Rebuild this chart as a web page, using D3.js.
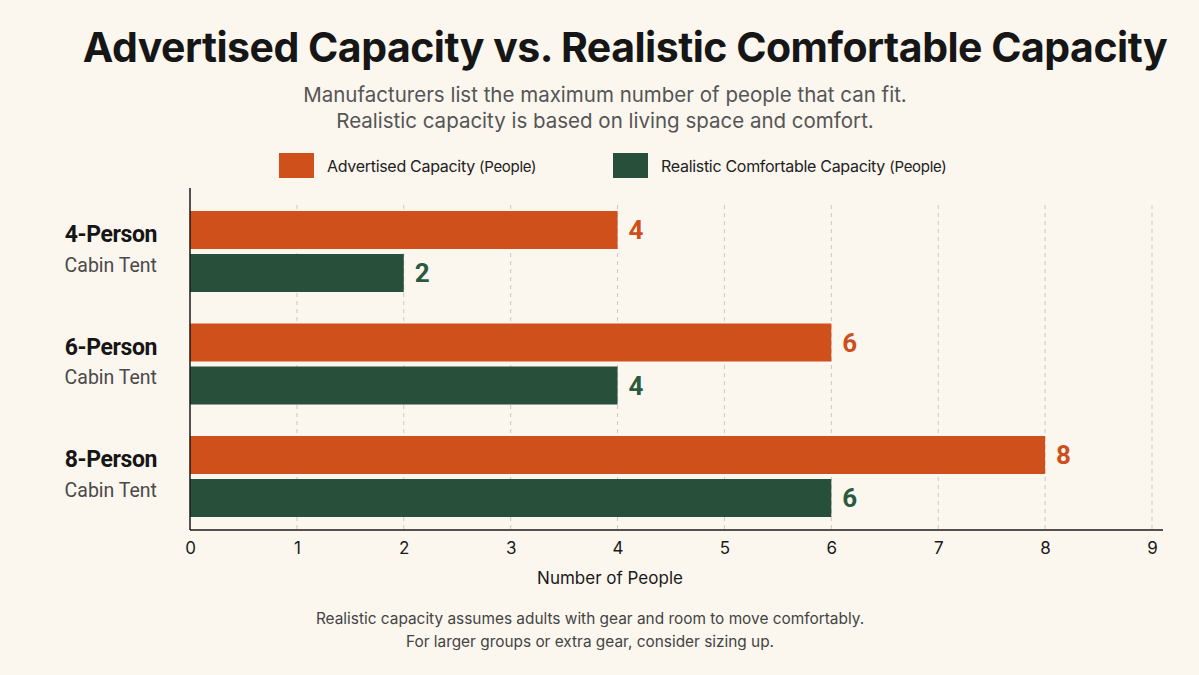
<!DOCTYPE html>
<html><head><meta charset="utf-8">
<script src="https://cdn.jsdelivr.net/npm/d3@7"></script>
<style>
html,body{margin:0;padding:0;background:#fbf6ee;}
svg{display:block;font-family:Inter, "Noto Sans", sans-serif;}
</style></head>
<body><svg id="c" width="1199" height="675"></svg>
<script>
const categories = ["4-Person", "6-Person", "8-Person"];
const subLabels = ["Cabin Tent", "Cabin Tent", "Cabin Tent"];
const seriesNames = ["Advertised Capacity", "Realistic Comfortable Capacity"];
const advertised = [4, 6, 8];
const realistic = [2, 4, 6];
const xTicks = [0, 1, 2, 3, 4, 5, 6, 7, 8, 9];
const colors = ["#cf501b", "#284f3a"];
const labelColors = ["#cc4f1c", "#2a5a40"];

const svg = d3.select("#c");
svg.append("rect").attr("width",1199).attr("height",675).attr("fill","#fbf6ee");

// Title
svg.append("text").attr("x",625).attr("y",62).attr("text-anchor","middle")
  .attr("font-size",41).attr("font-weight",700).attr("fill","#161616").attr("letter-spacing","-0.5")
  .text("Advertised Capacity vs. Realistic Comfortable Capacity");
const sub = ["Manufacturers list the maximum number of people that can fit.","Realistic capacity is based on living space and comfort."];
sub.forEach((s,i)=>svg.append("text").attr("x",605).attr("y",102+i*26).attr("text-anchor","middle")
  .attr("font-size",20.5).attr("fill","#555").text(s));

// Legend
const legX = [279, 613];
seriesNames.forEach((n,i)=>{
  svg.append("rect").attr("x",legX[i]).attr("y",153).attr("width",35).attr("height",25).attr("fill",colors[i]);
  const t = svg.append("text").attr("x",legX[i]+48).attr("y",172).attr("font-size",16).attr("fill","#222").attr("letter-spacing","-0.3");
  t.append("tspan").text(n+" ");
  t.append("tspan").attr("font-size",15).text("(People)");
});

// Scales
const x = d3.scaleLinear().domain([0,9]).range([190,1152]);
const y0 = d3.scaleBand().domain(categories).range([195.25,532.75]).paddingInner(0.28).paddingOuter(0.14);
const y1 = d3.scaleBand().domain(seriesNames).range([0,y0.bandwidth()]).paddingInner(5/43);

// grid
svg.append("g").selectAll("line").data(xTicks.filter(d=>d>0)).join("line")
  .attr("x1",d=>x(d)).attr("x2",d=>x(d)).attr("y1",205).attr("y2",530)
  .attr("stroke","#cdc9c2").attr("stroke-width",1).attr("stroke-dasharray","4,4");

// bars
const data = categories.map((c,i)=>({c, vals:[advertised[i], realistic[i]]}));
const g = svg.append("g").selectAll("g").data(data).join("g").attr("transform",d=>`translate(0,${y0(d.c)})`);
g.selectAll("rect").data(d=>d.vals.map((v,j)=>({v,s:seriesNames[j],j}))).join("rect")
  .attr("x",x(0)).attr("y",d=>y1(d.s)).attr("width",d=>x(d.v)-x(0)).attr("height",y1.bandwidth())
  .attr("fill",d=>colors[d.j]);
g.selectAll("text.v").data(d=>d.vals.map((v,j)=>({v,s:seriesNames[j],j}))).join("text").attr("class","v")
  .attr("x",d=>x(d.v)+11).attr("y",d=>y1(d.s)+y1.bandwidth()/2).attr("dy","0.36em")
  .attr("font-family","Roboto, sans-serif")
  .attr("font-size",26).attr("font-weight",700).attr("fill",d=>labelColors[d.j]).text(d=>d.v);

// category labels
const bw = y0.bandwidth();
categories.forEach((c,i)=>{
  svg.append("text").attr("x",157).attr("y",y0(c)+bw*0.285).attr("dy","0.36em")
    .attr("font-family","Roboto, sans-serif")
    .attr("text-anchor","end").attr("font-size",23).attr("font-weight",700).attr("fill","#161616").attr("letter-spacing","-0.4").text(c);
  svg.append("text").attr("x",157).attr("y",y0(c)+bw*0.665).attr("dy","0.36em")
    .attr("font-family","Roboto, sans-serif")
    .attr("text-anchor","end").attr("font-size",19.5).attr("fill","#4a4a4a").text(subLabels[i]);
});

// axes
const xAxis = d3.axisBottom(x).tickValues(xTicks).tickSize(0).tickPadding(12).tickFormat(d3.format("d"));
const ax = svg.append("g").attr("transform","translate(0,530)").call(xAxis);
ax.select(".domain").remove();
ax.selectAll("text").attr("font-size",17).attr("fill","#1a1a1a").attr("font-family","Inter, sans-serif");
svg.append("line").attr("x1",190).attr("x2",1163).attr("y1",530).attr("y2",530).attr("stroke","#1a1a1a").attr("stroke-width",1.5);
svg.append("line").attr("x1",190).attr("x2",190).attr("y1",188).attr("y2",530).attr("stroke","#1a1a1a").attr("stroke-width",1.5);

svg.append("text").attr("x",610).attr("y",584).attr("text-anchor","middle").attr("font-size",17).attr("fill","#1a1a1a").text("Number of People");

const foot = ["Realistic capacity assumes adults with gear and room to move comfortably.","For larger groups or extra gear, consider sizing up."];
foot.forEach((s,i)=>svg.append("text").attr("x",590).attr("y",624+i*23).attr("text-anchor","middle")
  .attr("font-size",15.4).attr("fill","#444").text(s));
</script></body></html>
